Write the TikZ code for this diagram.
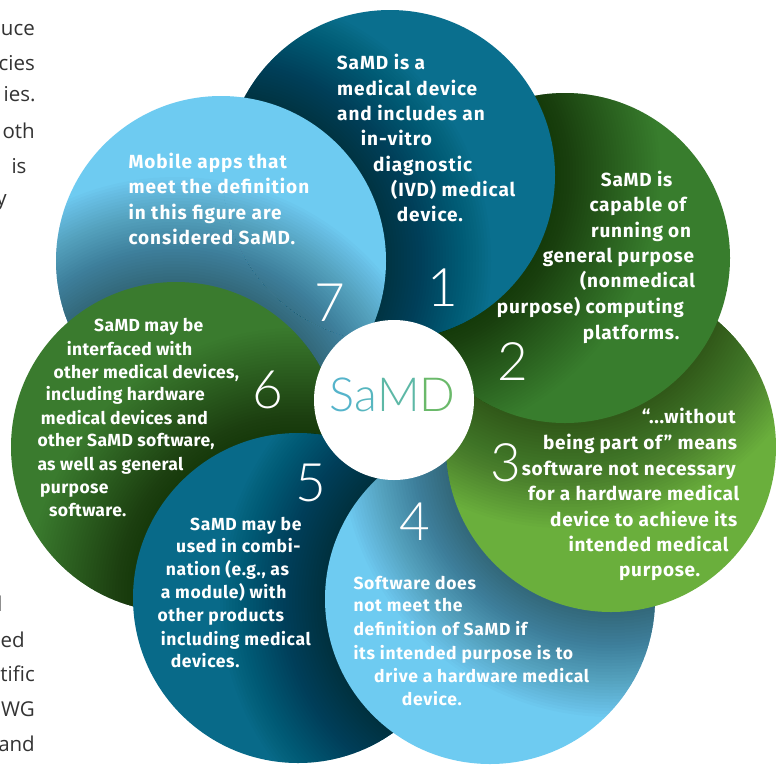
\documentclass[tikz,border=0pt]{standalone}
\usepackage{fontspec}
\setmainfont{Fira Sans}
\newfontfamily\numfont{Lato Light}
\newfontfamily\pagefont{Open Sans}
\usetikzlibrary{calc}

\definecolor{tealA}{HTML}{0A6F8E}
\definecolor{tealB}{HTML}{086A89}
\definecolor{greenA}{HTML}{387D2D}
\definecolor{greenB}{HTML}{3A7B2E}
\definecolor{leaf}{HTML}{6AAF3C}
\definecolor{sky}{HTML}{6ECBF1}
\definecolor{pagegray}{HTML}{333333}
\definecolor{logoS}{HTML}{55B4CB}
\definecolor{logoA}{HTML}{57B6BF}
\definecolor{logoM}{HTML}{5DB8A6}
\definecolor{logoD}{HTML}{6AB96A}

\def\rr{165pt}
% a disc with the soft shadow cast by the disc lying over it
\newcommand\samddisc[3]{%
  \fill[#2] (#1) circle[radius=\rr];
  \begin{scope}
    \clip (#1) circle[radius=\rr];
    \foreach \d in {3,6,...,105}
      \fill[black, fill opacity=0.016] (#3) circle[radius=\rr+\d pt];
  \end{scope}}

\begin{document}
\begin{tikzpicture}[x=1pt,y=-1pt,
  txtA/.style={font=\fontsize{19}{19}\selectfont\bfseries\addfontfeature{LetterSpace=#1},
    text=white, anchor=base west, inner sep=0pt},
  txtB/.style={font=\fontsize{17.5}{17.5}\selectfont\bfseries\addfontfeature{LetterSpace=#1},
    text=white, anchor=base west, inner sep=0pt},
  digit/.style={font=\numfont\fontsize{53}{53}\selectfont, text=white,
    anchor=base, inner sep=0pt},
  pagetext/.style={font=\pagefont\fontsize{20.5}{20.5}\selectfont,
    text=pagegray, anchor=base east, inner sep=0pt}]
\useasboundingbox (0,0) rectangle (776,764);
\fill[white] (0,0) rectangle (776,764);

% running text of the page column beside the figure
\foreach \x/\y/\t [count=\i] in {35/35/uce, 35/70/cies, 35.7/101.7/ies.,
    35/138/oth, 26.7/173/is, 7/205/y, 2.7/611.7/d, 25/647.3/ed,
    35/681.7/tific, 35/716.7/WG, 35/751.7/and}
  \node[pagetext] (page-\i) at (\x,\y) {\t};

% centres of the seven discs
\coordinate (c1) at (390,175);
\coordinate (c2) at (565,258);
\coordinate (c3) at (611,447);
\coordinate (c4) at (490,599);
\coordinate (c5) at (298,598);
\coordinate (c6) at (176,447);
\coordinate (c7) at (221,261);
\coordinate (hub) at (394,400);

% each disc lies under the one before it, disc 1 under disc 7
\samddisc{c7}{sky}{c6}
\samddisc{c6}{greenB}{c5}
\samddisc{c5}{tealB}{c4}
\samddisc{c4}{sky}{c3}
\samddisc{c3}{leaf}{c2}
\samddisc{c2}{greenA}{c1}
\samddisc{c1}{tealA}{c7}
\begin{scope}
  \clip (c1) circle[radius=\rr+2pt];
  \samddisc{c7}{sky}{c6}
\end{scope}

% central hub
\fill[white] (hub) circle[radius=80pt];
\node[font=\numfont\fontsize{47}{47}\selectfont, anchor=base, inner sep=0pt]
  (samd) at (392.5,411)
  {\textcolor{logoS}{S}\textcolor{logoA}{a}\textcolor{logoM}{M}\textcolor{logoD}{D}};

% numbers
\node[digit] (n1) at (443,306) {1};
\node[digit] (n2) at (513,380) {2};
\node[digit] (n3) at (506,481.7) {3};
\node[digit] (n4) at (415,540) {4};
\node[digit] (n5) at (311,501.7) {5};
\node[digit] (n6) at (267.5,408.3) {6};
\node[digit] (n7) at (330,321.7) {7};

% statements
\foreach \x/\y/\t [count=\i] in {336.7/69/{SaMD is a}, 337/95/{medical device},
    337/120/{and includes an}, 360.7/145.7/{in-vitro}, 373/171/{diagnostic},
    391/196.7/{(IVD) medical}, 396.7/221.7/{device.}}
  \node[txtA=5] (one-\i) at (\x,\y) {\t};

\foreach \x/\y/\t [count=\i] in {600.7/186/{SaMD is}, 589.3/211.7/{capable of},
    591/237.3/{running on}, 542.7/262.3/{general purpose},
    580/287.7/{(nonmedical}, 496.7/313.3/{purpose) computing},
    582.7/339/{platforms.}}
  \node[txtA=4] (two-\i) at (\x,\y) {\t};

\foreach \x/\y/\t [count=\i] in {641.7/423.3/{“...without},
    543/449.3/{being part of” means}, 521.7/475/{software not necessary},
    528/500.7/{for a hardware medical}, 550/526/{device to achieve its},
    568.3/551.7/{intended medical}, 619/576.7/{purpose.}}
  \node[txtA=3.5] (three-\i) at (\x,\y) {\t};

\foreach \x/\y/\t [count=\i] in {353.3/589.3/{Software does},
    353.3/611.7/{not meet the}, 353.3/635.7/{definition of SaMD if},
    353.3/659/{its intended purpose is to}, 374/682.3/{drive a hardware medical},
    401.7/705/{device.}}
  \node[txtB=4] (four-\i) at (\x,\y) {\t};

\foreach \x/\y/\t [count=\i] in {190/530/{SaMD may be}, 176/552.7/{used in combi-},
    165.7/575.7/{nation (e.g., as}, 160.7/598.3/{a module) with},
    157.3/621.7/{other products}, 160.7/645/{including medical},
    170.7/667.7/{devices.}}
  \node[txtB=3.5] (five-\i) at (\x,\y) {\t};

\foreach \x/\y/\t [count=\i] in {94/331.7/{SaMD may be}, 66.7/355/{interfaced with},
    53.3/378.3/{other medical devices,}, 45.7/400.7/{including hardware},
    40.7/424/{medical devices and}, 37.3/446.7/{other SaMD software,},
    37.3/470/{as well as general}, 40/493.3/{purpose}, 49/516.7/{software.}}
  \node[txtB=2] (six-\i) at (\x,\y) {\t};

\foreach \x/\y/\t [count=\i] in {128.3/168.3/{Mobile apps that},
    128.3/193.3/{meet the definition}, 128.3/219/{in this figure are},
    128.3/244.3/{considered SaMD.}}
  \node[txtA=5] (seven-\i) at (\x,\y) {\t};
\end{tikzpicture}
\end{document}
